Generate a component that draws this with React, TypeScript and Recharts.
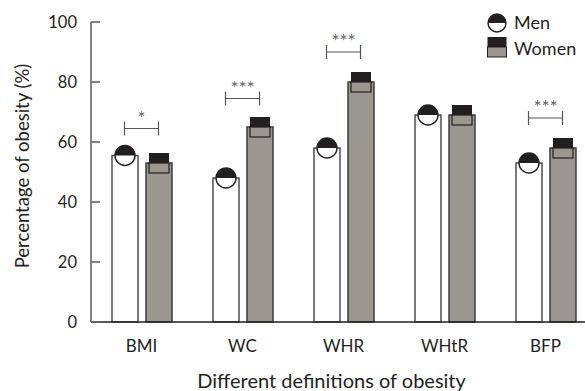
import React from 'react';
import { ComposedChart, Bar, Line, XAxis, YAxis, Legend } from 'recharts';

const CATEGORIES = ['BMI', 'WC', 'WHR', 'WHtR', 'BFP'];
const MEN = [55.5, 48, 58, 69, 53];
const WOMEN = [53, 65, 80, 69, 58];
const SIG_LEVEL: (number | null)[] = [64.5, 74.5, 90, null, 68];
const SIG_LABELS = ['*', '***', '***', '', '***'];
const Y_TICKS = [0, 20, 40, 60, 80, 100];

const data = CATEGORIES.map((name, i) => ({
    name,
    men: MEN[i],
    women: WOMEN[i],
    sig: SIG_LEVEL[i],
    sigLabel: SIG_LABELS[i],
}));

const FONT = 'Lato, "Noto Sans", sans-serif';
const INK = '#231f20';
const GRAY = '#9a9690';
const BAR_SIZE = 26;
const BAR_GAP = 8;

const MenShape = (props: any) => {
    const { x, y, width, height } = props;
    const cx = x + width / 2;
    const r = 10;
    return (
        <g>
            <rect x={x} y={y} width={width} height={height} fill="#fff" stroke="#444" strokeWidth={1.4} />
            <circle cx={cx} cy={y} r={r} fill="#fff" stroke={INK} strokeWidth={1.4} />
            <path d={`M${cx - r},${y} A${r},${r} 0 0 1 ${cx + r},${y} Z`} fill={INK} />
        </g>
    );
};

const WomenShape = (props: any) => {
    const { x, y, width, height } = props;
    const cx = x + width / 2;
    return (
        <g>
            <rect x={x} y={y} width={width} height={height} fill={GRAY} stroke="#333" strokeWidth={1.4} />
            <rect x={cx - 10} y={y - 10} width={20} height={10} fill={INK} />
            <rect x={cx - 10} y={y} width={20} height={10} fill={GRAY} stroke={INK} strokeWidth={1.2} />
        </g>
    );
};

const SigBracket = (props: any) => {
    const { cx, cy, payload } = props;
    if (cx == null || cy == null || !payload || payload.sig == null) return <g />;
    const half = (BAR_SIZE + BAR_GAP) / 2;
    return (
        <g>
            <line x1={cx - half} x2={cx + half} y1={cy} y2={cy} stroke="#555" strokeWidth={1.2} />
            <line x1={cx - half} x2={cx - half} y1={cy - 7} y2={cy + 7} stroke="#555" strokeWidth={1.2} />
            <line x1={cx + half} x2={cx + half} y1={cy - 7} y2={cy + 7} stroke="#555" strokeWidth={1.2} />
            <text x={cx} y={cy - 4} textAnchor="middle" fontSize={19} fill="#666" fontFamily={FONT}>
                {payload.sigLabel}
            </text>
        </g>
    );
};

const LegendContent = () => (
    <svg width={100} height={60}>
        <circle cx={10} cy={23} r={9} fill="#fff" stroke={INK} strokeWidth={1.4} />
        <path d="M1,23 A9,9 0 0 1 19,23 Z" fill={INK} />
        <text x={27} y={29} fontSize={18} fill={INK} fontFamily={FONT}>Men</text>
        <rect x={0.5} y={37} width={19} height={10} fill={INK} />
        <rect x={0.5} y={47} width={19} height={10} fill={GRAY} stroke={INK} strokeWidth={1} />
        <text x={27} y={55} fontSize={18} fill={INK} fontFamily={FONT}>Women</text>
    </svg>
);

const YLabel = ({ viewBox }: any) => {
    const x = 22;
    const y = viewBox.y + viewBox.height / 2 - 6;
    return (
        <text x={x} y={y} transform={`rotate(-90, ${x}, ${y})`} textAnchor="middle" dominantBaseline="central"
            fontSize={18.5} fill={INK} fontFamily={FONT}>
            Percentage of obesity (%)
        </text>
    );
};

export default function App() {
    return (
        <div style={{ position: 'absolute', left: 0, top: 0, width: 585, height: 391, overflow: 'hidden', background: '#fff' }}>
            <ComposedChart
                width={596}
                height={391}
                data={data}
                margin={{ top: 22, right: 0, bottom: 0, left: 0 }}
                barGap={BAR_GAP}
                style={{ fontFamily: FONT }}
            >
                <XAxis
                    dataKey="name"
                    height={69}
                    tickLine={false}
                    tickSize={0}
                    tickMargin={18}
                    stroke={INK}
                    strokeWidth={1.5}
                    tick={{ fill: INK, fontSize: 17, fontFamily: FONT }}
                    label={{ value: 'Different definitions of obesity', position: 'insideBottom', offset: 3, dx: -12, fill: INK, fontSize: 20, fontFamily: FONT }}
                />
                <YAxis
                    width={91}
                    domain={[0, 100]}
                    ticks={Y_TICKS}
                    interval={0}
                    tickSize={-9}
                    tickMargin={23}
                    stroke="#666"
                    strokeWidth={1.6}
                    tick={{ fill: INK, fontSize: 16.5, fontFamily: FONT }}
                    label={<YLabel />}
                />
                <Legend
                    layout="vertical"
                    align="center"
                    verticalAlign="middle"
                    content={<LegendContent />}
                    wrapperStyle={{ position: 'absolute', left: 487, top: 0, width: 100, height: 60 }}
                />
                <Bar dataKey="men" barSize={BAR_SIZE} shape={<MenShape />} isAnimationActive={false} />
                <Bar dataKey="women" barSize={BAR_SIZE} shape={<WomenShape />} isAnimationActive={false} />
                <Line dataKey="sig" stroke="none" dot={<SigBracket />} activeDot={false} isAnimationActive={false} legendType="none" connectNulls={false} />
            </ComposedChart>
        </div>
    );
}
